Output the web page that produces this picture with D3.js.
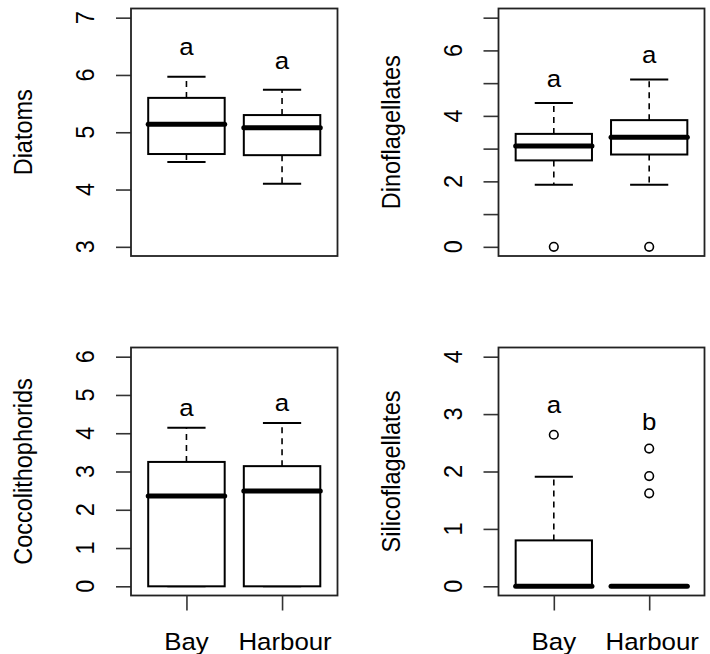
<!DOCTYPE html>
<html>
<head>
<meta charset="utf-8">
<script src="https://cdn.jsdelivr.net/npm/d3@7"></script>
<style>
  html, body { margin: 0; padding: 0; background: #fff; }
  svg { display: block; }
  text { font-family: "Liberation Sans", Arial, Helvetica, sans-serif; fill: #000; }
</style>
</head>
<body>
<svg id="chart" width="710" height="654"></svg>
<script>
// Sites compared in every panel
const groups = ["Bay", "Harbour"];

// Box statistics per site: [lower whisker, Q1, median, Q3, upper whisker]
const diatomsBox = [[4.48, 4.62, 5.14, 5.60, 5.97], [4.10, 4.60, 5.08, 5.30, 5.74]];
const dinoBox    = [[1.90, 2.64, 3.08, 3.45, 4.39], [1.90, 2.82, 3.35, 3.87, 5.11]];
const coccoBox   = [[0.00, 0.00, 2.36, 3.25, 4.14], [0.00, 0.00, 2.49, 3.14, 4.27]];
const silicoBox  = [[0.00, 0.00, 0.00, 0.80, 1.91], [0.00, 0.00, 0.00, 0.00, 0.00]];

// Outlying observations per site
const diatomsOut = [[], []];
const dinoOut    = [[0], [0]];
const coccoOut   = [[], []];
const silicoOut  = [[2.64], [2.40, 1.92, 1.62]];

// Significance letters and their heights
const diatomsLetters = ["a", "a"], diatomsLetterY = [6.46, 6.22];
const dinoLetters    = ["a", "a"], dinoLetterY    = [5.09, 5.80];
const coccoLetters   = ["a", "a"], coccoLetterY   = [4.63, 4.76];
const silicoLetters  = ["a", "b"], silicoLetterY  = [3.13, 2.84];

// Axis limits, ticks and tick labels
const diatomsLim = [3, 7], diatomsTicks = [3, 4, 5, 6, 7], diatomsTickLabels = ["3", "4", "5", "6", "7"];
const dinoLim    = [0, 7], dinoTicks    = [0, 1, 2, 3, 4, 5, 6, 7], dinoTickLabels = ["0", "", "2", "", "4", "", "6", ""];
const coccoLim   = [0, 6], coccoTicks   = [0, 1, 2, 3, 4, 5, 6], coccoTickLabels = ["0", "1", "2", "3", "4", "5", "6"];
const silicoLim  = [0, 4], silicoTicks  = [0, 1, 2, 3, 4], silicoTickLabels = ["0", "1", "2", "3", "4"];

const titles = ["Diatoms", "Dinoflagellates", "Coccolithophorids", "Silicoflagellates"];

const panels = [
  { title: titles[0], box: diatomsBox, out: diatomsOut, letters: diatomsLetters, letterY: diatomsLetterY,
    lim: diatomsLim, ticks: diatomsTicks, tickLabels: diatomsTickLabels, col: 0, row: 0 },
  { title: titles[1], box: dinoBox, out: dinoOut, letters: dinoLetters, letterY: dinoLetterY,
    lim: dinoLim, ticks: dinoTicks, tickLabels: dinoTickLabels, col: 1, row: 0 },
  { title: titles[2], box: coccoBox, out: coccoOut, letters: coccoLetters, letterY: coccoLetterY,
    lim: coccoLim, ticks: coccoTicks, tickLabels: coccoTickLabels, col: 0, row: 1 },
  { title: titles[3], box: silicoBox, out: silicoOut, letters: silicoLetters, letterY: silicoLetterY,
    lim: silicoLim, ticks: silicoTicks, tickLabels: silicoTickLabels, col: 1, row: 1 }
];

// Plot region geometry
const colX = [[131, 337.5], [498.5, 704.5]];
const rowY = [[8.5, 256], [347.5, 595.5]];
const FS = 23.5;      // font size
const SX = 1.1;       // horizontal glyph stretch
const tickLen = 15;

const svg = d3.select("#chart");

function hText(g, x, y, str) {
  return g.append("text")
    .attr("transform", `translate(${x},${y}) scale(${SX},1)`)
    .attr("text-anchor", "middle")
    .style("font-size", FS + "px")
    .text(str);
}
function vText(g, x, y, str) {
  return g.append("text")
    .attr("transform", `translate(${x},${y}) scale(${SX},1) rotate(-90)`)
    .attr("text-anchor", "middle")
    .style("font-size", FS + "px")
    .text(str);
}

panels.forEach(p => {
  const [x0, x1] = colX[p.col];
  const [y0, y1] = rowY[p.row];
  const g = svg.append("g");

  const pad = 0.04 * (p.lim[1] - p.lim[0]);
  const y = d3.scaleLinear().domain([p.lim[0] - pad, p.lim[1] + pad]).range([y1, y0]);
  const x = d3.scaleLinear().domain([0.42, 2.58]).range([x0, x1]);
  const bw = (x(1.4) - x(0.6));
  const cw = bw / 2;

  // y axis ticks
  const yAxis = d3.axisLeft(y).tickValues(p.ticks).tickSize(tickLen).tickFormat("");
  const ya = g.append("g").attr("transform", `translate(${x0},0)`).call(yAxis);
  ya.select(".domain").remove();
  ya.selectAll(".tick line").attr("stroke", "#333").attr("stroke-width", 1.6);

  p.ticks.forEach((t, i) => {
    if (p.tickLabels[i]) vText(g, x0 - 37, y(t), p.tickLabels[i]);
  });

  // axis title
  vText(g, x0 - 99, (y0 + y1) / 2, p.title);

  // boxes
  groups.forEach((grp, i) => {
    const cx = x(i + 1);
    const [lw, q1, md, q3, uw] = p.box[i];
    const bg = g.append("g");
    // whiskers
    bg.append("line").attr("x1", cx).attr("x2", cx).attr("y1", y(q3)).attr("y2", y(uw))
      .attr("stroke", "#000").attr("stroke-width", 1.6).attr("stroke-dasharray", "6,5");
    bg.append("line").attr("x1", cx).attr("x2", cx).attr("y1", y(q1)).attr("y2", y(lw))
      .attr("stroke", "#000").attr("stroke-width", 1.6).attr("stroke-dasharray", "6,5");
    // staples
    [lw, uw].forEach(v => {
      bg.append("line").attr("x1", cx - cw / 2).attr("x2", cx + cw / 2).attr("y1", y(v)).attr("y2", y(v))
        .attr("stroke", "#000").attr("stroke-width", 2);
    });
    // box
    bg.append("rect").attr("x", cx - bw / 2).attr("width", bw)
      .attr("y", y(q3)).attr("height", Math.max(0, y(q1) - y(q3)))
      .attr("fill", "#fff").attr("stroke", "#000").attr("stroke-width", 2);
    // median
    bg.append("line").attr("x1", cx - bw / 2).attr("x2", cx + bw / 2).attr("y1", y(md)).attr("y2", y(md))
      .attr("stroke", "#000").attr("stroke-width", 5).attr("stroke-linecap", "round");
    // outliers
    p.out[i].forEach(v => {
      bg.append("circle").attr("cx", cx).attr("cy", y(v)).attr("r", 4.3)
        .attr("fill", "none").attr("stroke", "#000").attr("stroke-width", 1.6);
    });
    // letter
    hText(g, cx, y(p.letterY[i]) + 6.5, p.letters[i]);
  });

  // plot frame
  g.append("rect").attr("x", x0).attr("y", y0).attr("width", x1 - x0).attr("height", y1 - y0)
    .attr("fill", "none").attr("stroke", "#222").attr("stroke-width", 1.8);

  // x axis on bottom row
  if (p.row === 1) {
    const xAxis = d3.axisBottom(x).tickValues([1, 2]).tickSize(tickLen).tickFormat("");
    const xa = g.append("g").attr("transform", `translate(0,${y1})`).call(xAxis);
    xa.select(".domain").remove();
    xa.selectAll(".tick line").attr("stroke", "#333").attr("stroke-width", 1.6);
    groups.forEach((grp, i) => hText(g, x(i + 1) + (i === 1 ? 3 : 0), 650, grp));
  }
});
</script>
</body>
</html>
